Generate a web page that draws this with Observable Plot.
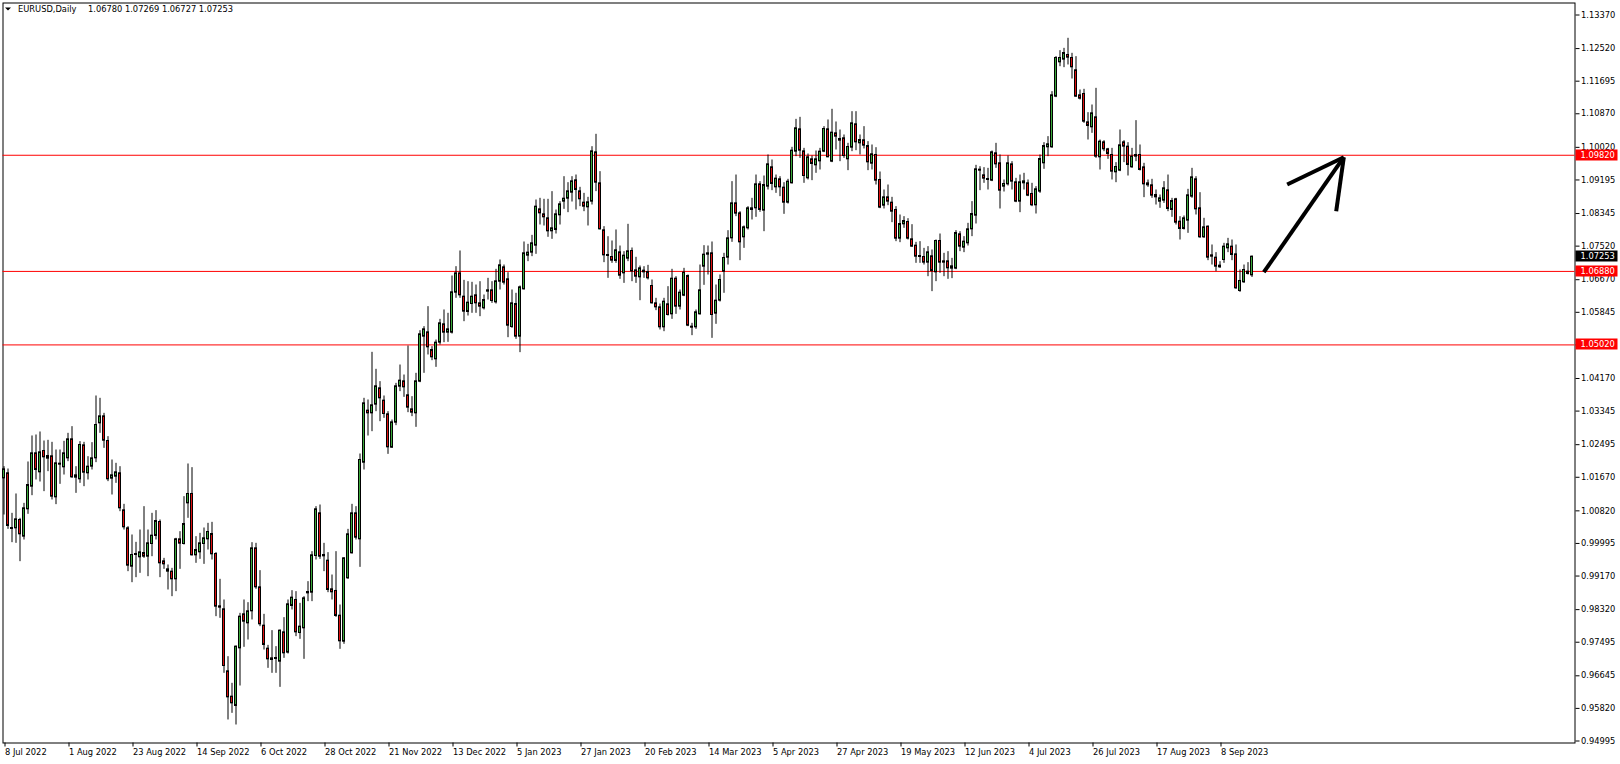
<!DOCTYPE html>
<html><head><meta charset="utf-8">
<script src="https://cdn.jsdelivr.net/npm/d3@7"></script>
<script src="https://cdn.jsdelivr.net/npm/@observablehq/plot@0.6"></script>
<style>
html,body{margin:0;padding:0;background:#fff;}
#chart svg{display:block;}
</style></head><body><div id="chart"></div>
<script>
// ---- data (EURUSD, Daily, 8 Jul 2022 .. 20 Sep 2023) ----
const symbolName = "EURUSD,Daily";
const lastQuote = ["1.06780", "1.07269", "1.06727", "1.07253"];

const open = [
1.01643,1.01770,1.00386,1.00378,1.00589,1.00167,1.00859,1.01432,1.02276,1.01795,
1.02335,1.02141,1.02200,1.01162,1.02014,1.01922,1.02149,1.02630,1.01660,1.01618,
1.02478,1.01770,1.01938,1.02149,1.03035,1.03212,1.02588,1.01635,1.01685,1.01770,
1.00833,1.00378,0.99407,0.99728,0.99644,0.99753,0.99660,0.99981,1.00184,1.00538,
0.99542,0.99281,0.99281,0.99087,1.00099,0.99981,1.01010,1.01247,0.99694,0.99770,
0.99981,1.00099,1.00234,0.99728,0.98403,0.98328,0.96758,0.96117,0.95881,0.97340,
0.98201,0.97973,0.98277,0.99871,0.98884,0.97914,0.97332,0.97087,0.97096,0.97003,
0.97745,0.97231,0.98412,0.98564,0.97728,0.97847,0.98732,0.98749,0.99677,1.00757,
0.99703,0.99559,0.98834,0.98792,0.98167,0.97509,0.99112,0.99745,1.00757,1.00099,
1.02039,1.03356,1.03288,1.03508,1.03921,1.03609,1.03263,1.02419,1.03052,1.03963,
1.04098,1.03744,1.03389,1.03288,1.04090,1.05229,1.05338,1.04891,1.04655,1.05077,
1.05541,1.05330,1.05330,1.06342,1.06831,1.06241,1.05853,1.06055,1.06275,1.06072,
1.05946,1.06368,1.06401,1.06097,1.06620,1.06983,1.06680,1.05473,1.06055,1.05229,
1.06426,1.07279,1.07355,1.07532,1.08451,1.08325,1.08224,1.07895,1.07929,1.08300,
1.08646,1.08721,1.08873,1.09185,1.08907,1.08620,1.08502,1.08646,1.09894,1.09109,
1.07920,1.07296,1.07245,1.07144,1.07363,1.06831,1.07203,1.07397,1.06907,1.06730,
1.06899,1.06865,1.06511,1.06072,1.05971,1.05465,1.06047,1.05794,1.06696,1.05988,
1.06266,1.06764,1.05482,1.05465,1.05794,1.07000,1.07304,1.07338,1.05811,1.06140,
1.06874,1.07228,1.07717,1.08603,1.08350,1.07743,1.07971,1.08435,1.08477,1.09084,
1.08418,1.09025,1.09515,1.09008,1.09211,1.09000,1.08620,1.09110,1.09911,1.10476,
1.09919,1.09236,1.09717,1.09565,1.09666,1.09911,1.10476,1.09658,1.10375,1.10232,
1.10249,1.09717,1.10012,1.10603,1.10122,1.10198,1.10054,1.09607,1.09827,1.09194,
1.08544,1.08755,1.08620,1.08435,1.07709,1.08072,1.08131,1.07692,1.07532,1.07270,
1.07245,1.07102,1.07262,1.06857,1.07650,1.07135,1.07135,1.06950,1.06950,1.07819,
1.07481,1.07591,1.07945,1.08291,1.09455,1.09312,1.09219,1.09177,1.09869,1.09616,
1.09025,1.09084,1.09590,1.09135,1.08646,1.09110,1.09110,1.08840,1.08553,1.08899,
1.09616,1.10021,1.10021,1.11303,1.12172,1.12240,1.12358,1.12282,1.11970,1.11337,
1.11371,1.10653,1.10527,1.10780,1.09768,1.10147,1.09970,1.09827,1.09388,1.09430,
1.10147,1.10038,1.09515,1.09827,1.09827,1.09514,1.09109,1.09059,1.08814,1.08645,
1.08671,1.08932,1.08435,1.08705,1.08139,1.07954,1.08165,1.08772,1.09211,1.08477,
1.07743,1.08013,1.07287,1.07228,1.07026,1.07169,1.07464,1.07507,1.07312,1.06384,
1.06604,1.06874,1.06780];

const high = [
1.01938,1.01879,1.00757,1.01247,1.00631,1.01010,1.02057,1.02715,1.02740,1.02816,
1.02588,1.02605,1.02554,1.02360,1.02360,1.02580,1.02782,1.02951,1.01938,1.02571,
1.02554,1.02191,1.02546,1.03727,1.03668,1.03288,1.02698,1.02107,1.02023,1.01938,
1.00985,1.00420,1.00209,1.00023,1.00335,1.00926,1.00335,1.00757,1.00825,1.00589,
0.99618,0.99450,0.99365,1.00125,1.00293,1.01179,1.02006,1.01913,1.00167,1.00251,
1.00386,1.00504,1.00529,0.99762,0.99087,0.98564,0.97129,0.96455,0.97399,0.98226,
0.98564,0.98496,1.00015,0.99998,0.99306,0.98201,0.97416,0.97788,0.97383,0.97804,
0.98117,0.98564,0.98800,0.98775,0.98479,0.98648,0.99028,0.99787,1.00926,1.00968,
0.99998,0.99762,0.99196,0.99787,0.98437,0.99635,1.00352,1.00985,1.00926,1.02259,
1.03668,1.03626,1.04832,1.04402,1.04090,1.03727,1.03330,1.03119,1.04047,1.04511,
1.04258,1.04992,1.03710,1.04301,1.05380,1.05482,1.05988,1.04976,1.05144,1.05667,
1.05904,1.05820,1.06764,1.07000,1.07397,1.06654,1.06620,1.06604,1.06536,1.06620,
1.06283,1.06705,1.06620,1.06933,1.07169,1.07042,1.06848,1.06410,1.06326,1.06511,
1.07625,1.07565,1.07793,1.08688,1.08730,1.08705,1.08705,1.08899,1.08434,1.08646,
1.09278,1.09126,1.09278,1.09320,1.09008,1.08856,1.08755,1.10037,1.10350,1.09405,
1.08013,1.07759,1.07650,1.07929,1.07523,1.07380,1.08072,1.07473,1.07237,1.07017,
1.07000,1.07034,1.06663,1.06199,1.06055,1.06199,1.06494,1.06933,1.06747,1.06410,
1.06958,1.06790,1.05566,1.05904,1.07042,1.07532,1.07523,1.07625,1.06536,1.06790,
1.07338,1.07911,1.09152,1.09320,1.08392,1.08030,1.08519,1.08730,1.09320,1.09152,
1.09295,1.09827,1.09700,1.09320,1.09278,1.09126,1.09211,1.10021,1.10729,1.10780,
1.09995,1.09852,1.09801,1.09928,1.09995,1.10544,1.10713,1.10983,1.10662,1.10459,
1.10333,1.10122,1.10923,1.10923,1.10333,1.10544,1.10164,1.10080,1.10012,1.09396,
1.08941,1.09067,1.08755,1.08519,1.08308,1.08266,1.08215,1.08063,1.07616,1.07633,
1.07464,1.07507,1.07422,1.07675,1.07827,1.07338,1.07380,1.07211,1.07912,1.07886,
1.07760,1.08097,1.08646,1.09565,1.09531,1.09506,1.09489,1.09928,1.10122,1.09827,
1.09194,1.09801,1.09658,1.09236,1.09320,1.09363,1.09194,1.09110,1.09025,1.09827,
1.10139,1.10291,1.11430,1.12316,1.12467,1.12526,1.12780,1.12400,1.12316,1.11472,
1.11489,1.10898,1.11092,1.11514,1.10206,1.10189,1.09995,1.09995,1.09633,1.10459,
1.10189,1.10139,1.09995,1.10696,1.10080,1.09616,1.09194,1.09211,1.08941,1.08814,
1.09152,1.09320,1.08730,1.08730,1.08266,1.08283,1.08958,1.09489,1.09278,1.08873,
1.08224,1.08030,1.07549,1.07355,1.07127,1.07591,1.07717,1.07675,1.07549,1.06916,
1.07042,1.07102,1.07269];

const low = [
1.00715,1.00352,1.00015,0.99998,0.99534,1.00082,1.00732,1.01204,1.01601,1.01550,
1.01306,1.01812,1.01095,1.00977,1.01491,1.01727,1.02065,1.01643,1.01263,1.01516,
1.01432,1.01601,1.01854,1.02040,1.02782,1.02402,1.01559,1.01221,1.01516,1.00799,
1.00335,0.99281,0.99002,0.99129,0.99239,0.99618,0.99154,0.99660,1.00082,0.99129,
0.99340,0.98817,0.98648,0.98775,0.99340,0.99956,1.00631,0.99677,0.99492,0.99593,
0.99466,0.99829,0.99576,0.98142,0.98100,0.96708,0.95527,0.95695,0.95400,0.96387,
0.97366,0.97551,0.98058,0.98834,0.97889,0.97298,0.96834,0.96708,0.96708,0.96353,
0.97087,0.97197,0.98311,0.97636,0.97568,0.97062,0.98522,0.98522,0.99576,0.99593,
0.99281,0.98749,0.98564,0.98125,0.97315,0.97442,0.99087,0.99728,1.00082,0.99390,
1.01854,1.02714,1.02824,1.03330,1.03077,1.03162,1.02250,1.02402,1.02976,1.03837,
1.03693,1.03305,1.03204,1.02934,1.04064,1.04301,1.04765,1.04621,1.04452,1.05018,
1.05077,1.05085,1.05296,1.06199,1.06199,1.05608,1.05751,1.05820,1.05820,1.05735,
1.05904,1.06156,1.06072,1.06055,1.06410,1.06536,1.05203,1.05439,1.05161,1.04824,
1.06410,1.07127,1.07254,1.07313,1.08055,1.08030,1.07743,1.07692,1.07827,1.08055,
1.08451,1.08367,1.08637,1.08434,1.08519,1.08392,1.08030,1.08561,1.08899,1.07929,
1.07102,1.06705,1.07085,1.07085,1.06680,1.06578,1.07127,1.06620,1.06578,1.06139,
1.06705,1.06663,1.06055,1.05887,1.05397,1.05355,1.05751,1.05667,1.05794,1.05904,
1.06241,1.05482,1.05254,1.05414,1.05777,1.06528,1.06789,1.05186,1.05541,1.06106,
1.06326,1.07042,1.07616,1.08266,1.07152,1.07464,1.07929,1.08182,1.08249,1.08376,
1.07886,1.08941,1.08924,1.08856,1.08772,1.08325,1.08586,1.09093,1.09785,1.09742,
1.09110,1.09194,1.09177,1.09363,1.09447,1.09886,1.09759,1.09633,1.09953,1.09658,
1.09742,1.09430,1.09911,1.09936,1.09827,1.09979,1.09430,1.09447,1.09067,1.08468,
1.08460,1.08544,1.08114,1.07633,1.07608,1.07971,1.07675,1.07490,1.07085,1.07085,
1.07042,1.06747,1.06368,1.06621,1.06832,1.06747,1.06680,1.06697,1.06924,1.07380,
1.07355,1.07523,1.07760,1.08080,1.08924,1.09110,1.08941,1.09152,1.09489,1.08460,
1.08890,1.09042,1.08941,1.08620,1.08367,1.08941,1.08772,1.08519,1.08333,1.08856,
1.09464,1.09785,1.09995,1.11278,1.12062,1.12037,1.12105,1.11750,1.11286,1.11219,
1.10628,1.10206,1.10375,1.09742,1.09447,1.09911,1.09717,1.09194,1.09126,1.09405,
1.09633,1.09295,1.09489,1.09658,1.09422,1.08747,1.09008,1.08730,1.08561,1.08477,
1.08603,1.08392,1.08249,1.08055,1.07675,1.07928,1.07844,1.08730,1.08308,1.07717,
1.07717,1.07152,1.07042,1.06874,1.06958,1.07085,1.07355,1.07152,1.06427,1.06351,
1.06578,1.06789,1.06727];

const close = [
1.01871,1.00437,1.00369,1.00605,1.00226,1.00884,1.01474,1.02276,1.01854,1.02301,
1.02175,1.02208,1.01179,1.02023,1.01997,1.02276,1.02630,1.01668,1.01719,1.02487,
1.01786,1.01938,1.02149,1.02993,1.03212,1.02596,1.01618,1.01719,1.01795,1.00884,
1.00403,0.99433,0.99703,0.99703,0.99770,0.99660,0.99998,1.00192,1.00563,0.99492,
0.99466,0.99340,0.99087,1.00099,0.99990,1.00487,1.01247,0.99694,0.99829,0.99998,
1.00125,1.00285,0.99720,0.98395,0.98370,0.96893,0.96100,0.95948,0.97383,0.98142,
0.98015,0.98277,0.99871,0.98884,0.97948,0.97425,0.97062,0.97045,0.97079,0.97788,
0.97214,0.98454,0.98623,0.97745,0.97889,0.98606,0.98766,0.99694,1.00859,0.99660,
0.99669,0.98817,0.98758,0.98159,0.97518,0.99618,1.00226,1.00757,1.00141,1.02107,
1.03541,1.03288,1.03491,1.03972,1.03668,1.03271,1.02428,1.03060,1.03972,1.04115,
1.03946,1.03432,1.03305,1.04098,1.05288,1.05414,1.04959,1.04706,1.05077,1.05566,
1.05330,1.05414,1.06351,1.06831,1.06275,1.05862,1.06089,1.06241,1.06072,1.05988,
1.06156,1.06401,1.06131,1.06629,1.07034,1.06595,1.05507,1.06072,1.05229,1.06477,
1.07338,1.07355,1.07591,1.08519,1.08350,1.08249,1.07895,1.07971,1.08325,1.08578,
1.08721,1.08907,1.09160,1.08941,1.08705,1.08519,1.08629,1.09919,1.09126,1.07945,
1.07287,1.07279,1.07152,1.07414,1.06772,1.07279,1.07388,1.06882,1.06747,1.06958,
1.06857,1.06705,1.06072,1.05971,1.05465,1.06114,1.05777,1.06696,1.05988,1.06342,
1.06848,1.05507,1.05456,1.05845,1.06401,1.07304,1.07338,1.05777,1.06140,1.06663,
1.07220,1.07717,1.08603,1.08342,1.07616,1.07996,1.08477,1.08477,1.09084,1.08435,
1.09067,1.09590,1.09093,1.09228,1.09008,1.08620,1.09152,1.09936,1.10502,1.09936,
1.09295,1.09768,1.09599,1.09717,1.09911,1.10485,1.09768,1.10392,1.10291,1.10189,
1.09801,1.10029,1.10628,1.10147,1.10206,1.10063,1.09641,1.09844,1.09177,1.08494,
1.08755,1.08646,1.08392,1.07709,1.08080,1.08156,1.07709,1.07507,1.07253,1.07253,
1.07102,1.07363,1.06891,1.07650,1.07102,1.07102,1.06958,1.07009,1.07852,1.07507,
1.07633,1.07945,1.08333,1.09464,1.09439,1.09228,1.09202,1.09894,1.09590,1.08924,
1.09093,1.09616,1.09152,1.08646,1.09135,1.09160,1.08797,1.08553,1.08958,1.09725,
1.10054,1.10097,1.11337,1.12282,1.12282,1.12408,1.12290,1.12046,1.11303,1.11252,
1.10670,1.10561,1.10881,1.09785,1.10164,1.09970,1.09852,1.09405,1.09523,1.10071,
1.10038,1.09574,1.09785,1.09785,1.09447,1.09084,1.09059,1.08797,1.08755,1.08730,
1.08983,1.08460,1.08662,1.08114,1.07954,1.08224,1.08806,1.09261,1.08451,1.07743,
1.07996,1.07228,1.07253,1.07000,1.06983,1.07507,1.07566,1.07296,1.06452,1.06638,
1.06916,1.06815,1.07253];

// date axis: bar index of each labelled bar and its label
const xTickIndex = [0,16,32,48,64,80,96,112,128,144,160,176,192,208,224,240,256,272,288,304];
const xTickLabels = ["8 Jul 2022","1 Aug 2022","23 Aug 2022","14 Sep 2022","6 Oct 2022","28 Oct 2022",
  "21 Nov 2022","13 Dec 2022","5 Jan 2023","27 Jan 2023","20 Feb 2023","14 Mar 2023","5 Apr 2023",
  "27 Apr 2023","19 May 2023","12 Jun 2023","4 Jul 2023","26 Jul 2023","17 Aug 2023","8 Sep 2023"];

// price axis labels
const yTickLabels = ["1.13370","1.12520","1.11695","1.10870","1.10020","1.09195","1.08345","1.07520",
  "1.06670","1.05845","1.05020","1.04170","1.03345","1.02495","1.01670","1.00820","0.99995","0.99170",
  "0.98320","0.97495","0.96645","0.95820","0.94995"];

// horizontal levels and current price
const levelLabels = ["1.09820","1.06880","1.05020"];
const currentPriceLabel = "1.07253";

// hand-drawn arrow (bar index, price)
const arrowFromBar = [314.95, 320.8, 333.05];
const arrowFromPrice = [1.0686, 1.0908, 1.08404];
const arrowTipBar = 334.95;
const arrowTipPrice = 1.09771;

// ---- build ----
const candles = open.map((o, i) => ({i, o, h: high[i], l: low[i], c: close[i]}));
const levels = levelLabels.map(Number);
const yTicks = yTickLabels.map(Number);
const arrows = arrowFromBar.map((b, k) => ({x1: b, y1: arrowFromPrice[k], x2: arrowTipBar, y2: arrowTipPrice}));
const BULL = "#3aa83a", BEAR = "#dd1111";
const minBody = 0.00025;

function overlay(index, scales, values, dims) {
  const g = d3.create("svg:g")
    .attr("font-family", "DejaVu Sans, sans-serif")
    .attr("font-size", "8.3px")
    .attr("text-anchor", "start");
  const xr = dims.width - dims.marginRight;
  const boxes = levelLabels.map(t => ({t, bg: "#ff0000"}));
  boxes.push({t: currentPriceLabel, bg: "#000000"});
  for (const b of boxes) {
    const y = Math.round(scales.y(Number(b.t)));
    g.append("rect").attr("x", xr + 1).attr("y", y - 5.5).attr("width", 42).attr("height", 11).attr("fill", b.bg);
    g.append("text").attr("x", xr + 6).attr("y", y + 0.5).attr("dy", "0.35em")
      .attr("text-anchor", "start").attr("fill", "#fff").text(b.t);
  }
  g.append("path").attr("d", "M5,7.5L11,7.5L8,10.5Z").attr("fill", "#000");
  g.append("text").attr("x", 18).attr("y", 9.5).attr("dy", "0.35em")
    .attr("text-anchor", "start").attr("fill", "#000").text(symbolName);
  g.append("text").attr("x", 88).attr("y", 9.5).attr("dy", "0.35em")
    .attr("text-anchor", "start").attr("fill", "#000").text(lastQuote.join(" "));
  return g.node();
}

const chart = Plot.plot({
  width: 1620, height: 764,
  marginLeft: 2.5, marginRight: 45.5, marginTop: 2.5, marginBottom: 21.5,
  style: {fontFamily: "DejaVu Sans, sans-serif", fontSize: "8.3px", background: "#fff", color: "#000"},
  x: {type: "linear", domain: [0, 312], range: [3.5, 1251.5]},
  y: {type: "linear", domain: [0.94995, 1.13370], range: [740.5, 14.5]},
  marks: [
    Plot.frame({stroke: "#000"}),
    Plot.ruleY(levels, {stroke: "#ff0000", strokeWidth: 1}),
    Plot.ruleX(candles, {x: "i", y1: "l", y2: "h", stroke: "#000", strokeWidth: 1}),
    Plot.rect(candles, {
      x1: d => d.i - 0.25, x2: d => d.i + 0.25,
      y1: d => Math.max(d.o, d.c),
      y2: d => Math.min(d.o, d.c) - Math.max(0, minBody - Math.abs(d.o - d.c)),
      fill: d => d.c >= d.o ? BULL : BEAR, stroke: "#000", strokeWidth: 1
    }),
    Plot.axisY({anchor: "right", ticks: yTicks, tickFormat: d => d.toFixed(5), tickSize: 4, tickPadding: 2, label: null}),
    Plot.axisX({anchor: "bottom", ticks: xTickIndex, tickFormat: d => xTickLabels[xTickIndex.indexOf(d)],
      tickSize: 4, tickPadding: 2, textAnchor: "start", dx: 1, label: null}),
    Plot.link(arrows, {x1: "x1", y1: "y1", x2: "x2", y2: "y2", stroke: "#000", strokeWidth: 4, strokeLinecap: "butt"}),
    overlay
  ]
});
document.getElementById("chart").appendChild(chart);
</script>
</body></html>
